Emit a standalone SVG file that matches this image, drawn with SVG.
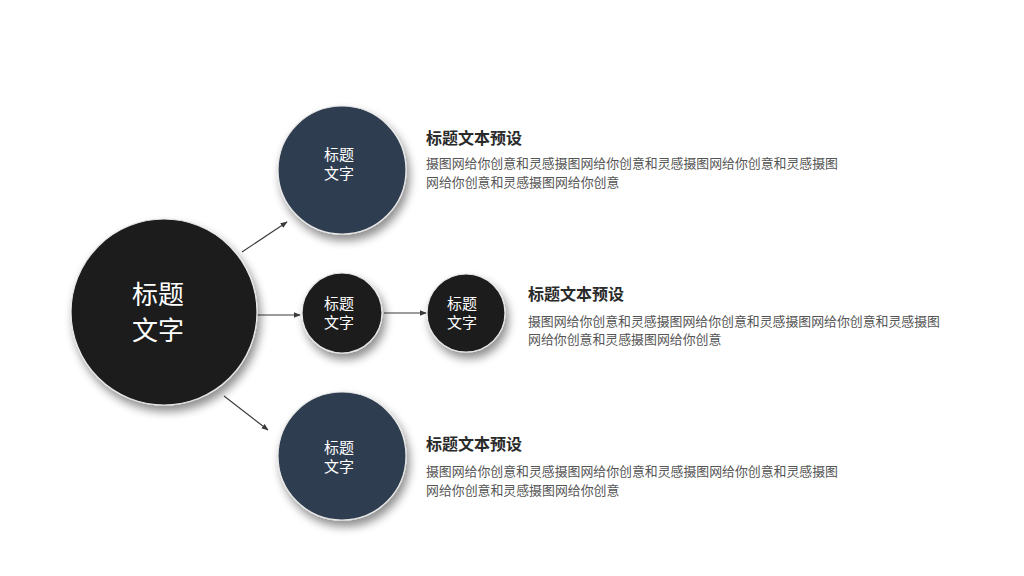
<svg xmlns="http://www.w3.org/2000/svg" width="1024" height="576" viewBox="0 0 1024 576">
<defs>
<filter id="sh" x="-30%" y="-30%" width="170%" height="170%">
<feGaussianBlur in="SourceAlpha" stdDeviation="5"/>
<feOffset dx="3" dy="6" result="b"/>
<feComponentTransfer><feFuncA type="linear" slope="0.45"/></feComponentTransfer>
<feMerge><feMergeNode/><feMergeNode in="SourceGraphic"/></feMerge>
</filter>
<marker id="ar" viewBox="0 0 10 10" refX="9" refY="5" markerWidth="7" markerHeight="7" orient="auto" markerUnits="userSpaceOnUse">
<path d="M0,1 L10,5 L0,9 Z" fill="#3a3a3a"/>
</marker>
</defs>
<style>
.dark{fill:#1e1e1e;stroke:#e6e6e6;stroke-width:1.2}
.navy{fill:#2f3d4f;stroke:#e6e6e6;stroke-width:1.2}
.ct{font-family:"Noto Sans CJK SC","Noto Sans",sans-serif;fill:#ffffff;text-anchor:middle}
.h{font-family:"Noto Sans CJK SC",sans-serif;font-size:16px;font-weight:bold;fill:#2a2a2a}
.b{font-family:"Noto Sans CJK SC",sans-serif;font-size:12.9px;fill:#555555}
.cn{stroke:#3a3a3a;stroke-width:1.1;fill:none;marker-end:url(#ar)}
</style>
<rect width="1024" height="576" fill="#ffffff"/>
<g id="connectors">
<line class="cn" x1="242" y1="252" x2="287" y2="222"/>
<line class="cn" x1="257" y1="315" x2="300" y2="315"/>
<line class="cn" x1="384" y1="313" x2="426" y2="313"/>
<line class="cn" x1="224" y1="396" x2="268" y2="430"/>
</g>
<g id="main">
<circle class="dark" cx="164" cy="312" r="93" filter="url(#sh)"/>
<text class="ct" font-size="26" x="158" y="304">标题</text>
<text class="ct" font-size="26" x="158" y="340">文字</text>
</g>
<g id="top">
<circle class="navy" cx="342" cy="170" r="64" filter="url(#sh)"/>
<text class="ct" font-size="15" x="339" y="160">标题</text>
<text class="ct" font-size="15" x="339" y="179">文字</text>
</g>
<g id="mid1">
<circle class="dark" cx="342" cy="313" r="40" filter="url(#sh)"/>
<text class="ct" font-size="15" x="339" y="309">标题</text>
<text class="ct" font-size="15" x="339" y="328">文字</text>
</g>
<g id="mid2">
<circle class="dark" cx="466" cy="313" r="39" filter="url(#sh)"/>
<text class="ct" font-size="15" x="462" y="309">标题</text>
<text class="ct" font-size="15" x="462" y="328">文字</text>
</g>
<g id="bottom">
<circle class="navy" cx="342" cy="456" r="64" filter="url(#sh)"/>
<text class="ct" font-size="15" x="339" y="453">标题</text>
<text class="ct" font-size="15" x="339" y="472">文字</text>
</g>
<g id="text-top">
<text class="h" x="426" y="144">标题文本预设</text>
<text class="b" x="426" y="168" textLength="412">摄图网给你创意和灵感摄图网给你创意和灵感摄图网给你创意和灵感摄图</text>
<text class="b" x="426" y="187">网给你创意和灵感摄图网给你创意</text>
</g>
<g id="text-mid">
<text class="h" x="528" y="300">标题文本预设</text>
<text class="b" x="528" y="326" textLength="412">摄图网给你创意和灵感摄图网给你创意和灵感摄图网给你创意和灵感摄图</text>
<text class="b" x="528" y="344">网给你创意和灵感摄图网给你创意</text>
</g>
<g id="text-bottom">
<text class="h" x="426" y="450">标题文本预设</text>
<text class="b" x="426" y="476" textLength="412">摄图网给你创意和灵感摄图网给你创意和灵感摄图网给你创意和灵感摄图</text>
<text class="b" x="426" y="495">网给你创意和灵感摄图网给你创意</text>
</g>
</svg>
